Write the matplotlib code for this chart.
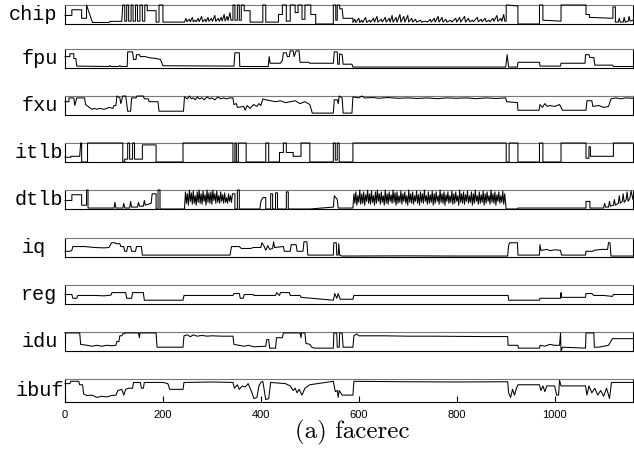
"""
plot_facerec.py - per-unit activity traces for the facerec run
"""

import matplotlib
matplotlib.use('Agg')
import matplotlib.pyplot as plt

# -------------------------------------------------------------------------
# Traces: (sample, normalised activity) vertices for each unit
# -------------------------------------------------------------------------
units = ['chip', 'fpu', 'fxu', 'itlb', 'dtlb', 'iq', 'reg', 'idu', 'ibuf']

chip = [(0, .45), (14, .45), (14, .75), (34, .75), (34, .3), (44, .3), (44, 1), (56, .08),
        (90, .08), (92, .14), (116, .14), (118, 1), (122, 1), (122, .15), (126, .15), (126, 1),
        (130, 1), (130, .15), (135, .15), (135, 1), (139, 1), (139, .15), (144, .15), (144, 1),
        (148, 1), (148, .15), (153, .15), (153, 1), (158, 1), (158, .15), (163, .15), (163, 1),
        (168, 1), (168, .7), (186, .7), (186, .1), (192, .1), (192, 1), (200, 1), (200, .1),
        (244, .1), (247, .3), (249, .12), (254, .25),
        (256, .12), (260, .35), (262, .12), (266, .2), (268, .12), (272, .3), (274, .12),
        (279, .4), (281, .12), (286, .25), (288, .12), (292, .35), (294, .14), (299, .3),
        (301, .14), (306, .45), (308, .14), (313, .3), (315, .14), (319, .35), (321, .16),
        (325, .5), (327, .16), (331, .4), (333, .18), (337, .6), (339, .2), (343, .2), (343, 1),
        (347, 1), (347, .2), (352, .2), (352, 1), (356, 1), (356, .2), (360, .2), (360, 1),
        (366, 1), (366, .7), (378, .7), (378, .1), (404, .1), (404, 1), (410, 1), (410, .1),
        (436, .1), (436, .5), (444, .5), (444, 1), (452, 1), (452, .15), (460, .15), (460, 1),
        (470, 1), (470, .6), (476, .6), (476, 1), (484, 1), (484, .25), (490, .25), (490, 1),
        (502, 1), (502, .5), (512, .5), (512, 0), (548, 0), (548, 1), (553, 1), (553, .2),
        (556, .2), (556, 1), (561, 1), (561, .8), (566, .8), (568, .3), (588, .3), (588, .08),
        (592, .25), (594, .08), (600, .3), (602, .08), (606, .2), (608, .08), (614, .35),
        (616, .08), (622, .2), (624, .1), (630, .3), (632, .1), (637, .4), (639, .1), (646, .25),
        (648, .1), (654, .35), (656, .1), (662, .3), (664, .1), (668, .45), (670, .1), (676, .35),
        (678, .1), (684, .5), (686, .1), (692, .4), (694, .1), (700, .45), (702, .1), (708, .3),
        (710, .1), (716, .25), (718, .1), (726, .2), (728, .1), (736, .15), (740, .1), (746, .25),
        (748, .1), (754, .3), (756, .1), (762, .4), (764, .1), (770, .35), (772, .1), (778, .25),
        (780, .1), (788, .2), (790, .1), (798, .3), (800, .1), (806, .35), (808, .1), (816, .4),
        (818, .1), (824, .3), (826, .12), (832, .2), (834, .12), (842, .35), (844, .12),
        (850, .25), (852, .12), (858, .3), (860, .12), (866, .2), (868, .12), (874, .3),
        (876, .14), (882, .45), (884, .14), (890, .3), (892, .14), (896, .5), (898, .15),
        (901, .15), (901, 1), (925, .95), (925, 0), (969, 0), (969, 1), (976, 1), (976, .2),
        (1013, .15), (1013, 1), (1064, 1), (1064, .5), (1071, .5), (1071, .35), (1119, .3),
        (1119, .9), (1124, .9), (1124, .1), (1130, .1), (1132, .3), (1134, .1), (1140, .1),
        (1142, .35), (1144, .1), (1150, .15), (1152, .4), (1154, .15), (1160, .2)]

fpu = [(0, .6), (10, .6), (10, .75), (18, .75), (18, .5), (22, .5), (24, .1), (90, .08),
       (92, .13), (94, .08), (110, .08), (112, .13), (114, .08), (127, .08), (128, .85),
       (138, .85), (140, .45), (145, .45), (146, .7), (152, .7), (154, .6), (165, .6),
       (170, .55), (185, .5), (195, .45), (200, .12), (345, .1), (347, .8), (356, .8),
       (357, .08), (415, .08), (417, .6), (419, .25), (440, .25), (444, .4), (446, .8),
       (452, .8), (454, .6), (458, .6), (460, .9), (466, .9), (468, .6), (472, .9), (478, .9),
       (480, .3), (498, .3), (500, .25), (548, .25), (550, .85), (556, .85), (557, .2),
       (560, .2), (561, .75), (566, .7), (568, .2), (586, .2), (588, .05), (900, .05),
       (903, .7), (906, .05), (924, .05), (925, .3), (969, .3), (970, .1), (1012, .1),
       (1013, .25), (1062, .25), (1063, .7), (1070, .7), (1072, .55), (1080, .55), (1082, .15),
       (1118, .15), (1120, .08), (1160, .08)]

fxu = [(0, .7), (8, .7), (8, .9), (18, .9), (20, .5), (24, .9), (40, .9), (42, .55), (50, .4),
       (55, .3), (60, .35), (65, .3), (70, .35), (80, .3), (90, .4), (98, .35), (100, .5),
       (104, .5), (106, 1), (112, .9), (114, .6), (118, 1), (124, 1), (128, .2), (134, .2),
       (136, .9), (145, .9), (147, 1), (160, 1), (162, .85), (170, .85), (172, .7),
       (190, .7), (192, .2), (242, .2), (244, .95), (250, .85), (254, 1), (258, .85), (262, .9),
       (266, .8), (270, .95), (274, .85), (280, .9), (284, .8), (290, .95), (296, .85),
       (300, .9), (306, .8), (312, .95), (318, .85), (324, .9), (330, .85), (336, .9),
       (343, .9), (345, .55), (350, .6), (352, .4), (365, .45), (368, .25), (372, .5),
       (378, .35), (385, .55), (392, .45), (396, .6), (400, .5), (404, .85), (410, .8),
       (420, .75), (430, .7), (440, .75), (450, .65), (460, .7), (470, .75), (480, .6),
       (490, .7), (500, .55), (505, .1), (548, .1), (550, .8), (556, .8), (558, .6), (560, 1),
       (566, .9), (568, .1), (586, .1), (588, .95), (600, .9), (606, 1), (612, .9), (630, .92),
       (640, .88), (660, .92), (680, .88), (700, .9), (720, .87), (740, .9), (760, .86),
       (780, .9), (800, .88), (820, .9), (840, .86), (860, .9), (880, .87), (900, .9),
       (902, .7), (924, .65), (925, .25), (968, .25), (970, .55), (975, .4), (980, .6),
       (985, .45), (990, .5), (1000, .45), (1010, .55), (1016, .25), (1064, .25), (1066, .75),
       (1076, .75), (1078, .45), (1090, .5), (1100, .4), (1110, .45), (1115, .85), (1125, .9),
       (1135, .85), (1145, .9), (1160, .88)]

itlb = [(0, .25), (12, .25), (12, .3), (30, .3), (32, 1), (34, 1), (34, 0), (46, 0),
        (46, 1), (118, 1), (118, 0), (122, 0), (122, .15), (128, .15), (128, 1), (132, 1),
        (132, .15), (138, .15), (138, 1), (142, 1), (142, .15), (158, .15), (158, .9),
        (186, .9), (186, 0), (241, 0), (241, 1), (343, 1), (343, 0), (347, 0),
        (347, 1), (350, 1), (350, 0), (354, 0), (354, 1), (370, 1), (370, 0), (410, 0),
        (410, 1), (416, 1), (416, 0), (438, 0), (438, .5), (446, .5), (446, 1), (452, 1),
        (452, .5), (466, .5), (466, .3), (482, .3), (482, 1), (500, 1), (500, 0), (548, 0),
        (548, 1), (552, 1), (552, .1), (556, .1), (556, 1), (560, 1), (560, 0), (588, 0),
        (588, 1), (901, 1), (901, 0), (907, 0), (907, 1), (925, 1), (925, 0), (969, 0),
        (969, 1), (976, 1), (976, 0), (1013, 0), (1013, 1), (1064, 1), (1064, .2),
        (1070, .2), (1070, .8), (1073, .8), (1073, .3), (1120, .3), (1120, 1), (1160, 1)]

dtlb = [(0, .45), (14, .45), (14, .75), (34, .75), (34, .2), (44, .2), (44, 1), (47, 1),
        (47, .05), (100, .05), (102, .35), (104, .05), (118, .05), (120, .3), (122, .05),
        (132, .05), (134, .4), (136, .1), (148, .1), (150, .35), (152, .15), (160, .15),
        (162, .45), (164, .2), (176, .3), (178, .8), (186, .8), (186, 0), (190, 0),
        (190, 1), (194, 1), (194, 0), (244, 0), (246, .9), (248, .3), (250, .8), (252, .2),
        (254, 1), (256, .4), (258, .85), (260, .25), (262, .95), (264, .3), (266, .7),
        (268, .2), (270, .9), (272, .35), (274, 1), (276, .3), (278, .8), (280, .25),
        (282, .95), (284, .4), (286, .75), (288, .2), (290, 1), (292, .35), (294, .85),
        (296, .3), (298, .9), (300, .25), (302, 1), (304, .45), (306, .8), (308, .3),
        (310, .95), (312, .35), (314, .7), (316, .3), (318, .9), (320, .4), (322, .75),
        (324, .3), (326, .85), (328, .35), (330, .6), (332, .3), (334, .8), (336, .4),
        (338, .7), (340, .35), (342, .8), (347, .8), (347, 0), (352, 0), (352, 1),
        (356, 1), (356, 0), (398, 0), (400, .4), (404, .6), (410, .6), (410, 0),
        (420, 0), (420, .8), (424, .8), (424, 0), (430, 0), (430, .85), (434, .85),
        (434, 0), (452, 0), (452, .9), (456, .9), (456, 0), (500, 0), (548, .1),
        (550, .7), (556, .5), (558, .05), (588, .05), (590, .8), (592, .3), (594, .9),
        (596, .2), (598, .7), (600, .35), (602, 1), (604, .25), (606, .8), (608, .3),
        (610, .9), (612, .2), (614, .75), (616, .4), (618, 1), (620, .3), (622, .8), (624, .25),
        (626, .95), (628, .35), (630, .7), (632, .2), (634, .9), (636, .3), (638, 1), (640, .4),
        (642, .8), (644, .25), (646, .9), (648, .35), (650, .7), (652, .2), (654, 1), (656, .3),
        (658, .8), (660, .25), (662, .9), (664, .4), (666, .75), (668, .3), (670, 1),
        (672, .35), (674, .85), (676, .2), (678, .9), (680, .3), (682, .7), (684, .35),
        (686, .95), (688, .25), (690, .8), (692, .4), (694, .9), (696, .3), (698, .7),
        (700, .2), (702, 1), (704, .35), (706, .8), (708, .3), (710, .9), (712, .25), (714, .7),
        (716, .4), (718, .95), (720, .3), (722, .75), (724, .2), (726, .9), (728, .35),
        (730, .8), (732, .3), (734, 1), (736, .4), (738, .7), (740, .25), (742, .9), (744, .3),
        (746, .75), (748, .35), (750, .95), (752, .2), (754, .8), (756, .3), (758, .9),
        (760, .4), (762, .7), (764, .25), (766, 1), (768, .35), (770, .8), (772, .3), (774, .9),
        (776, .2), (778, .75), (780, .4), (782, .9), (784, .3), (786, .7), (788, .35),
        (790, .95), (792, .25), (794, .8), (796, .3), (798, .9), (800, .4), (802, .7),
        (804, .2), (806, 1), (808, .35), (810, .8), (812, .3), (814, .9), (816, .25),
        (818, .75), (820, .4), (822, .95), (824, .3), (826, .7), (828, .35), (830, .9),
        (832, .2), (834, .8), (836, .3), (838, 1), (840, .4), (842, .7), (844, .25), (846, .9),
        (848, .3), (850, .75), (852, .35), (854, .95), (856, .2), (858, .8), (860, .3),
        (862, .9), (864, .4), (866, .7), (868, .25), (870, 1), (872, .35), (874, .8), (876, .3),
        (878, .9), (880, .2), (882, .75), (884, .4), (886, .9), (888, .3), (890, .7),
        (892, .35), (894, .95), (896, .25), (898, .8), (900, .3), (901, 0), (925, 0),
        (925, .05), (1013, .05), (1064, .05), (1064, .4), (1072, .4), (1072, .05), (1100, .05),
        (1102, .3), (1104, .1), (1110, .1), (1112, .4), (1114, .15), (1120, .2), (1122, .5),
        (1124, .2), (1130, .3), (1132, .7), (1134, .3), (1138, .4), (1140, .8), (1142, .35),
        (1146, .5), (1148, .9), (1150, .4), (1154, .6), (1156, .95), (1160, .5)]

iq = [(0, .3), (10, .3), (14, .35), (16, .55), (40, .55), (60, .5), (80, .48), (90, .5),
      (95, .75), (102, .75), (104, .7), (112, .7), (114, .55), (120, .55), (122, .3),
      (126, .3), (128, .55), (134, .55), (136, .3), (144, .3), (146, .55), (156, .55),
      (158, .1), (337, .1), (340, .55), (356, .55), (360, .45), (380, .45), (384, .5),
      (400, .5), (402, .75), (406, .6), (410, .35), (414, .6), (418, .4), (424, .45),
      (426, .8), (428, .5), (446, .55), (448, .3), (460, .3), (462, .65), (472, .65),
      (474, .3), (486, .3), (488, .8), (494, .8), (496, .1), (548, .1), (549, .75),
      (554, .75), (555, .1), (558, .1), (559, .7), (561, .1), (565, .05), (700, .06),
      (800, .05), (904, .05), (906, .6), (908, .75), (924, .75), (925, .1), (969, .1),
      (970, .65), (972, .35), (985, .4), (990, .33), (1000, .38), (1012, .35), (1014, .1),
      (1063, .1), (1064, .3), (1078, .3), (1080, .35), (1095, .4), (1108, .4), (1110, .75),
      (1113, .75), (1115, .05), (1160, .05)]

reg = [(0, .5), (14, .5), (16, .3), (24, .3), (26, .45), (60, .45), (80, .43), (94, .47),
       (96, .6), (110, .6), (112, .6), (124, .6), (126, .3), (136, .3), (138, .6), (160, .6),
       (162, .2), (241, .2), (243, .45), (343, .45), (345, .55), (356, .55), (358, .3),
       (364, .3), (366, .5), (384, .5), (386, .45), (430, .45), (432, .6), (438, .45),
       (440, .6), (458, .6), (460, .45), (480, .45), (482, .35), (548, .2), (551, .55),
       (555, .3), (558, .55), (562, .25), (588, .25), (590, .45), (905, .45), (906, .2),
       (969, .2), (970, .3), (1012, .3), (1013, .6), (1014, .35), (1063, .35), (1064, .55),
       (1076, .55), (1080, .45), (1100, .45), (1118, .4), (1120, .5), (1160, .5)]

idu = [(0, .95), (30, .95), (32, .35), (45, .3), (55, .25), (65, .3), (75, .25), (85, .3),
       (95, .28), (104, .3), (106, .5), (110, .5), (112, .8), (116, .8), (118, .9), (124, .95),
       (150, .95), (152, .7), (153, .95), (186, .95), (188, .2), (241, .2), (243, .8),
       (250, .85), (256, .75), (262, .85), (270, .78), (280, .82), (290, .78), (300, .8),
       (320, .78), (343, .78), (345, .35), (355, .3), (365, .25), (375, .3), (385, .22),
       (410, .25), (412, .6), (416, .6), (418, .15), (430, .15), (432, .7), (444, .7),
       (446, .95), (480, .95), (482, .7), (483, .95), (490, .95), (492, .4), (500, .35),
       (504, .2), (510, .15), (548, .15), (549, .95), (555, .95), (556, .2), (560, .2),
       (561, .95), (566, .95), (568, .2), (588, .2), (590, .8), (596, .9), (600, .8), (650, .8),
       (700, .78), (750, .78), (800, .77), (850, .76), (900, .76), (904, .76), (905, .3),
       (925, .3), (926, .15), (969, .15), (970, .3), (980, .25), (990, .35), (1000, .3),
       (1010, .3), (1012, .95), (1013, 0), (1016, .2), (1063, .15), (1064, .95),
       (1080, .95), (1081, .2), (1090, .2), (1100, .25), (1110, .3), (1118, .65), (1160, .65)]

ibuf = [(0, .8), (10, .8), (12, .9), (28, .9), (30, .75), (36, .75), (38, .35), (45, .28),
        (55, .3), (65, .2), (75, .25), (85, .22), (95, .28), (104, .3), (108, .5), (116, .55),
        (120, .3), (124, .55), (130, .6), (138, .6), (140, .85), (154, .85), (156, .6),
        (160, .6), (162, .85), (200, .85), (210, .8), (214, .55), (241, .55), (243, .85),
        (300, .87), (343, .85), (346, .6), (352, .75), (356, .55), (362, .7), (368, .65),
        (374, .8), (380, .5), (386, .15), (392, .2), (396, .7), (400, .85), (404, .9),
        (410, .1), (416, .15), (420, .85), (450, .8), (460, .7), (466, .5), (470, .6),
        (474, .4), (478, .55), (484, .3), (490, .6), (500, .75), (548, .9), (552, .45),
        (556, .5), (558, .2), (560, .5), (566, .3), (588, .3), (590, .9), (700, .88),
        (800, .87), (904, .88), (906, .4), (910, .2), (914, .55), (918, .3), (922, .6),
        (925, .75), (969, .75), (972, .5), (976, .7), (980, .45), (984, .7), (1000, .7),
        (1004, .3), (1008, .3), (1010, .95), (1013, .7), (1063, .7), (1066, .3), (1070, .7),
        (1076, .4), (1082, .6), (1088, .3), (1094, .5), (1100, .25), (1106, .6), (1112, .15),
        (1116, .85), (1160, .85)]

traces = [chip, fpu, fxu, itlb, dtlb, iq, reg, idu, ibuf]

# label x-positions (pixels from the left edge) and panel rows (top pixel, height)
label_px = [9, 22, 22, 15, 15, 22, 21, 22, 16]
panel_top = [5, 49, 96, 143, 190, 238, 285, 332, 379]
panel_h = [19, 19, 19, 19, 19, 19, 19, 19, 23]

W, H = 634, 459
left_px, right_px = 65, 633
x_max = 1160


def main():
    fig = plt.figure(figsize=(W / 100, H / 100), dpi=100)
    fig.patch.set_facecolor('white')

    for i, (name, pts) in enumerate(zip(units, traces)):
        bottom = 1 - (panel_top[i] + panel_h[i]) / H
        ax = fig.add_axes([left_px / W, bottom, (right_px - left_px) / W, panel_h[i] / H])
        xs = [p[0] for p in pts]
        ys = [p[1] for p in pts]
        # flat runs at 0 or 1 sit on the frame, so let them draw over it
        ax.plot(xs, ys, color='black', lw=0.75, clip_on=False, zorder=3)
        ax.set_xlim(0, x_max)
        ax.set_ylim(0, 1)
        ax.set_yticks([])
        for side, spine in ax.spines.items():
            spine.set_color('#777777' if side == 'top' else 'black')
            spine.set_linewidth(0.8)

        if i < len(units) - 1:
            ax.set_xticks([])
        else:
            ax.set_xticks([0, 200, 400, 600, 800, 1000])
            ax.tick_params(axis='x', direction='in', length=4, width=0.8,
                           labelsize=8, pad=6)
            for lab in ax.get_xticklabels():
                lab.set_fontfamily('Liberation Sans')

        fig.text(label_px[i] / W, 1 - (panel_top[i] + panel_h[i] / 2) / H, name,
                 family='Liberation Mono', fontsize=14.5, ha='left', va='center')

    fig.text(352 / W, 1 - 432 / H, '(a) facerec', family='cmr10', fontsize=18,
             ha='center', va='center')

    fig.savefig('out.png', dpi=100, facecolor='white')


if __name__ == '__main__':
    main()
